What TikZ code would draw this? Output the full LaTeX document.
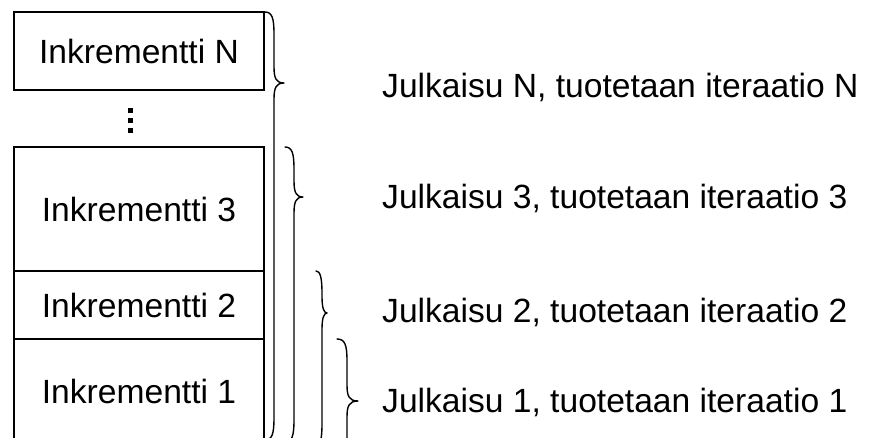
\documentclass[tikz,border=0pt]{standalone}
\usepackage{fontspec}
\setmainfont{Liberation Sans}
\begin{document}
\begin{tikzpicture}[x=1pt,y=-1pt,
  every node/.style={font=\fontsize{33.6}{40}\selectfont},
  incbox/.style={draw, line width=1.6pt, rectangle, minimum width=250pt, inner sep=0pt, anchor=center},
  release/.style={anchor=base west, inner sep=0pt},
  bracestroke/.style={line width=1.4pt, line join=round, line cap=round}]
\useasboundingbox (0,0) rectangle (869,437);
\fill[white] (0,0) rectangle (869,437);

% stack of increments
\node[incbox, minimum height=78pt]  (incN) at (139,51)  {Inkrementti N};
\node[incbox, minimum height=124pt] (inc3) at (139,209) {Inkrementti 3};
\node[incbox, minimum height=68pt]  (inc2) at (139,305) {Inkrementti 2};
\node[incbox, minimum height=104pt] (inc1) at (139,391) {Inkrementti 1};

% vertical ellipsis between N and 3
\foreach \yy in {110,120,130}
  \fill (128,\yy-2.5) rectangle (133,\yy+2.5);

% release labels
\node[release] (relN) at (382,97)  {Julkaisu N, tuotetaan iteraatio N};
\node[release] (rel3) at (382,208) {Julkaisu 3, tuotetaan iteraatio 3};
\node[release] (rel2) at (382,322) {Julkaisu 2, tuotetaan iteraatio 2};
\node[release] (rel1) at (382,412) {Julkaisu 1, tuotetaan iteraatio 1};

% braces: start x, top, vertical x, tip x, tip y, bottom
\newcommand{\relbrace}[6]{%
  \draw[bracestroke] (#1,#2) .. controls (#3-2,#2) and (#3,#2+6) .. (#3,#2+22)
    -- (#3,#5-16) .. controls (#3,#5-5) and (#3+2,#5) .. (#4,#5)
    .. controls (#3+2,#5) and (#3,#5+5) .. (#3,#5+16)
    -- (#3,#6-22) .. controls (#3,#6-6) and (#3-2,#6) .. (#1,#6);}
\relbrace{265}{12}{274}{284}{83}{440}
\relbrace{285}{147}{294}{303}{197}{442}
\relbrace{316}{271}{322}{327}{313}{446}
\relbrace{337}{339}{347}{358}{401}{460}
\end{tikzpicture}
\end{document}
